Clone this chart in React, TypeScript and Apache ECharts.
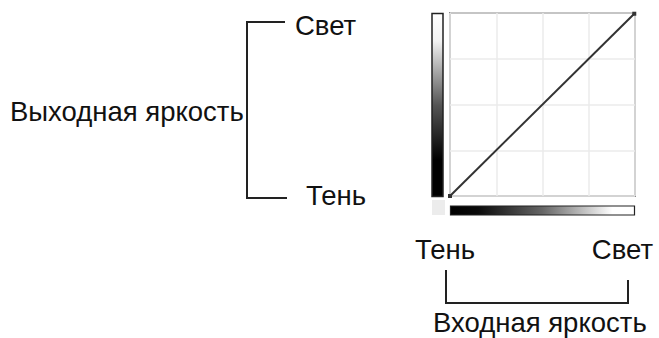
import React, { useEffect, useRef } from "react";
import * as echarts from "echarts";

const curveInput: number[] = [0, 255];
const curveOutput: number[] = [0, 255];
const axisMin = 0;
const axisMax = 256;
const axisInterval = 64;
const outputLabel = "Выходная яркость";
const inputLabel = "Входная яркость";
const lightLabel = "Свет";
const shadowLabel = "Тень";

export default function App() {
  const ref = useRef<HTMLDivElement>(null);
  useEffect(() => {
    document.body.style.margin = "0";
    const chart = echarts.init(ref.current!, null, { renderer: "svg" });
    const font = "'Liberation Sans', Arial, sans-serif";
    const fs = 27.5;
    const txt = (text: string, x: number, y: number, align: string = "left") => ({
      type: "text",
      x,
      y,
      style: {
        text,
        fill: "#111",
        font: `${fs}px ${font}`,
        textAlign: align,
        textVerticalAlign: "middle",
      },
      silent: true,
    });
    const line = (points: number[][]) => ({
      type: "polyline",
      shape: { points },
      style: { stroke: "#222", lineWidth: 2, fill: "none" },
      silent: true,
    });
    chart.setOption({
      animation: false,
      grid: {
        left: 450,
        top: 13,
        width: 185,
        height: 183,
        show: true,
        borderColor: "#8a8a8a",
        borderWidth: 2,
        backgroundColor: "#fff",
      },
      xAxis: {
        type: "value",
        min: axisMin,
        max: axisMax,
        interval: axisInterval,
        axisLine: { show: false },
        axisTick: { show: false },
        axisLabel: { show: false },
        splitLine: { show: true, lineStyle: { color: "#ebebeb", width: 1.5 } },
      },
      yAxis: {
        type: "value",
        min: axisMin,
        max: axisMax,
        interval: axisInterval,
        axisLine: { show: false },
        axisTick: { show: false },
        axisLabel: { show: false },
        splitLine: { show: true, lineStyle: { color: "#ebebeb", width: 1.5 } },
      },
      series: [
        {
          type: "line",
          data: curveInput.map((v, i) => [v, curveOutput[i]]),
          lineStyle: { color: "#333", width: 2 },
          symbol: "rect",
          symbolSize: 4,
          itemStyle: { color: "#333" },
          showSymbol: true,
        },
      ],
      graphic: [
        {
          type: "line",
          shape: { x1: 450, y1: 13, x2: 635, y2: 13 },
          style: { stroke: "#444", lineWidth: 1.5 },
          silent: true,
        },
        {
          type: "rect",
          shape: { x: 432, y: 13.5, width: 11, height: 183 },
          style: {
            fill: new echarts.graphic.LinearGradient(0, 0, 0, 1, [
              { offset: 0, color: "#ffffff" },
              { offset: 0.15, color: "#f2f2f2" },
              { offset: 0.5, color: "#555555" },
              { offset: 0.8, color: "#000000" },
              { offset: 1, color: "#000000" },
            ]),
            stroke: "#222",
            lineWidth: 1.5,
          },
          silent: true,
        },
        {
          type: "rect",
          shape: { x: 450.5, y: 206, width: 184, height: 9 },
          style: {
            fill: new echarts.graphic.LinearGradient(0, 0, 1, 0, [
              { offset: 0, color: "#000000" },
              { offset: 0.15, color: "#0a0a0a" },
              { offset: 0.5, color: "#666666" },
              { offset: 0.88, color: "#ffffff" },
              { offset: 1, color: "#ffffff" },
            ]),
            stroke: "#222",
            lineWidth: 1.2,
          },
          silent: true,
        },
        {
          type: "rect",
          shape: { x: 432, y: 200, width: 13, height: 15 },
          style: { fill: "#ececec" },
          silent: true,
        },
        line([[285, 22], [247, 22], [247, 198], [287, 198]]),
        line([[446, 270], [446, 303], [628, 303], [628, 280]]),
        txt(outputLabel, 10, 111),
        txt(lightLabel, 295, 25),
        txt(shadowLabel, 306, 195),
        txt(shadowLabel, 415, 249),
        txt(lightLabel, 653, 249, "right"),
        txt(inputLabel, 433, 322),
      ],
    });
    return () => chart.dispose();
  }, []);
  return <div ref={ref} style={{ width: 659, height: 338 }} />;
}
